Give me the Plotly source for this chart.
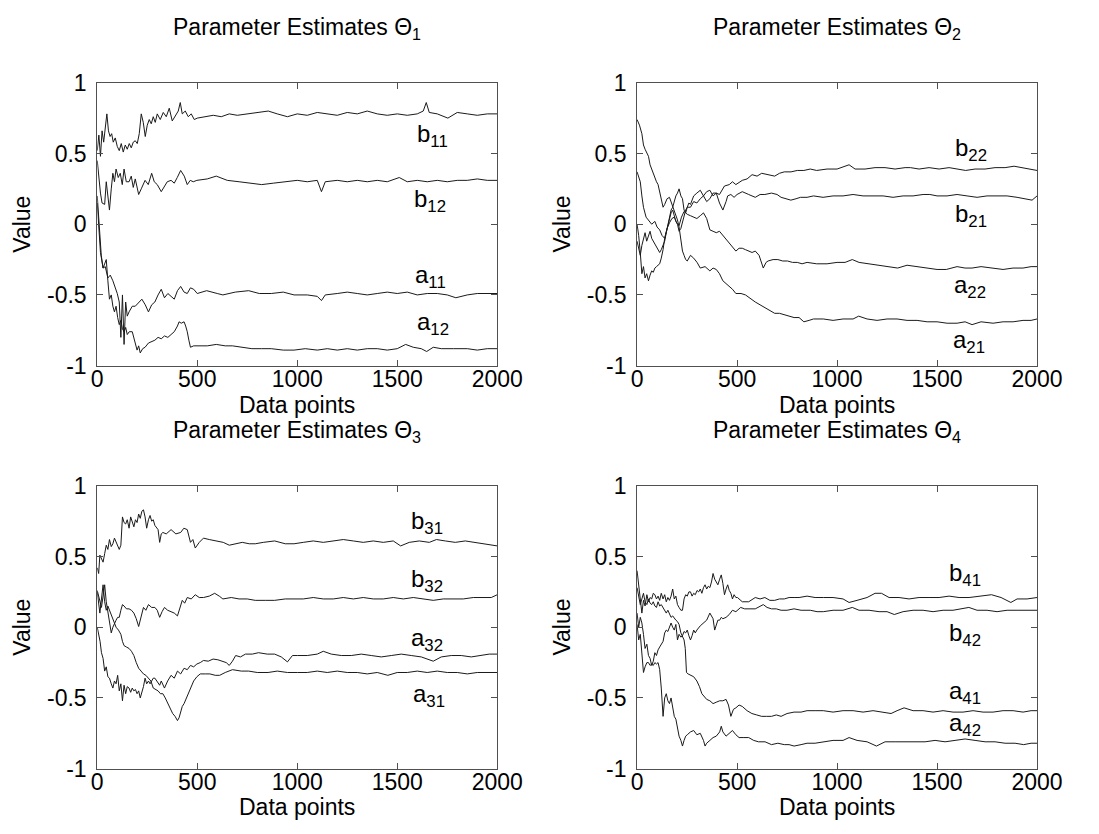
import plotly.graph_objects as go

W, H = 1099, 834

# ---------------- Panel 1 ----------------
p1_b11_x = [0, 8, 16, 24, 32, 40, 48, 56, 64, 72, 80, 90, 100, 110, 120, 130, 140, 150, 160, 170, 180, 190, 200, 210, 220, 230, 240, 250, 260, 270, 280, 290, 300, 315, 330, 345, 360, 375, 390, 405, 415, 425, 440, 455, 470, 485, 500,
            540, 580, 620, 660, 700, 750, 800, 855, 900, 951, 1000, 1050, 1100, 1150, 1200, 1250, 1300, 1350, 1400, 1450, 1500, 1550, 1600, 1630, 1645, 1660, 1700, 1753, 1800, 1850, 1900, 1950, 2000]
p1_b11_y = [0.52, 0.63, 0.48, 0.66, 0.58, 0.70, 0.78, 0.66, 0.62, 0.64, 0.58, 0.61, 0.55, 0.52, 0.57, 0.51, 0.56, 0.53, 0.57, 0.54, 0.58, 0.59, 0.57, 0.64, 0.78, 0.72, 0.62, 0.70, 0.74, 0.71, 0.76, 0.72, 0.78, 0.74, 0.79, 0.76, 0.82, 0.73, 0.77, 0.80, 0.86, 0.78, 0.80, 0.76, 0.78, 0.74, 0.75,
            0.76, 0.77, 0.76, 0.78, 0.77, 0.78, 0.79, 0.80, 0.78, 0.76, 0.78, 0.77, 0.79, 0.78, 0.77, 0.79, 0.78, 0.80, 0.78, 0.77, 0.78, 0.77, 0.78, 0.80, 0.86, 0.79, 0.78, 0.75, 0.79, 0.78, 0.77, 0.78, 0.78]

p1_b12_x = [0, 8, 16, 24, 37, 45, 53, 61, 70, 78, 86, 94, 105, 115, 125, 134, 145, 159, 170, 180, 190, 207, 220, 239, 255, 272, 285, 300, 320, 335, 350, 369, 385, 400, 417, 435, 450, 465, 480, 498,
            550, 595, 650, 709, 760, 822, 880, 951, 1000, 1050, 1100, 1121, 1140, 1200, 1250, 1300, 1350, 1400, 1450, 1510, 1550, 1600, 1650, 1700, 1750, 1800, 1850, 1900, 1950, 2000]
p1_b12_y = [0.45, 0.30, 0.22, 0.15, 0.14, 0.30, 0.18, 0.10, 0.25, 0.36, 0.30, 0.39, 0.33, 0.36, 0.28, 0.39, 0.30, 0.30, 0.34, 0.26, 0.32, 0.21, 0.25, 0.31, 0.28, 0.36, 0.30, 0.28, 0.23, 0.27, 0.30, 0.31, 0.29, 0.33, 0.38, 0.34, 0.28, 0.31, 0.30, 0.31,
            0.32, 0.34, 0.31, 0.30, 0.29, 0.28, 0.29, 0.30, 0.31, 0.30, 0.31, 0.23, 0.30, 0.31, 0.30, 0.31, 0.30, 0.31, 0.30, 0.33, 0.30, 0.31, 0.30, 0.31, 0.30, 0.31, 0.31, 0.32, 0.31, 0.31]

p1_a11_x = [0, 8, 16, 29, 40, 53, 65, 78, 90, 100, 110, 118, 126, 134, 142, 150, 159, 175, 190, 207, 223, 240, 256, 272, 288, 304, 320, 336, 353, 369, 385, 401, 417, 434, 450, 466, 482, 500,
            547, 600, 628, 690, 757, 810, 870, 930, 984, 1050, 1100, 1121, 1140, 1200, 1250, 1300, 1350, 1400, 1450, 1500, 1550, 1600, 1650, 1700, 1750, 1793, 1850, 1900, 1950, 2000]
p1_a11_y = [0.15, -0.05, -0.20, -0.31, -0.30, -0.38, -0.36, -0.40, -0.45, -0.49, -0.55, -0.80, -0.50, -0.85, -0.55, -0.65, -0.62, -0.58, -0.58, -0.55, -0.53, -0.57, -0.62, -0.57, -0.55, -0.50, -0.46, -0.52, -0.49, -0.51, -0.53, -0.47, -0.44, -0.48, -0.49, -0.45, -0.46, -0.49,
            -0.47, -0.49, -0.50, -0.48, -0.47, -0.49, -0.49, -0.48, -0.50, -0.50, -0.51, -0.54, -0.50, -0.49, -0.48, -0.49, -0.50, -0.49, -0.48, -0.49, -0.48, -0.50, -0.49, -0.49, -0.50, -0.52, -0.50, -0.49, -0.49, -0.49]

p1_a12_x = [0, 6, 13, 20, 29, 37, 45, 53, 61, 70, 78, 86, 94, 102, 110, 118, 126, 134, 142, 150, 160, 175, 190, 199, 207, 215, 227, 239, 256, 272, 288, 304, 320, 336, 353, 369, 385, 401, 409, 420, 434, 442, 450, 458, 466, 482, 498,
            550, 595, 640, 676, 720, 773, 820, 870, 930, 984, 1040, 1100, 1150, 1200, 1250, 1300, 1350, 1400, 1450, 1500, 1542, 1580, 1620, 1647, 1680, 1720, 1780, 1850, 1900, 1950, 2000]
p1_a12_y = [0.20, 0.05, -0.13, -0.22, -0.31, -0.28, -0.25, -0.40, -0.53, -0.50, -0.58, -0.62, -0.58, -0.66, -0.71, -0.68, -0.74, -0.76, -0.73, -0.78, -0.76, -0.76, -0.85, -0.89, -0.86, -0.91, -0.88, -0.87, -0.84, -0.83, -0.82, -0.80, -0.81, -0.79, -0.80, -0.78, -0.76, -0.72, -0.69, -0.70, -0.69, -0.72, -0.76, -0.82, -0.87, -0.86, -0.86,
            -0.86, -0.85, -0.86, -0.86, -0.87, -0.88, -0.88, -0.88, -0.89, -0.89, -0.88, -0.89, -0.88, -0.89, -0.88, -0.89, -0.88, -0.88, -0.89, -0.88, -0.85, -0.87, -0.88, -0.90, -0.87, -0.88, -0.88, -0.88, -0.89, -0.88, -0.88]

# ---------------- Panel 2 ----------------
p2_a21_x = [0, 12, 24, 32, 40, 48, 57, 65, 73, 81, 89, 97, 105, 113, 121, 130, 138, 150, 162, 174, 186, 194, 202, 210, 219, 227, 235, 243, 251, 267, 283, 300, 316, 340, 364, 380, 396, 412, 429, 445, 461, 477, 494,
            520, 542, 570, 591, 615, 639, 665, 688, 712, 736, 760, 785, 810, 834, 860, 882, 931, 980, 1030, 1080, 1108, 1150, 1200, 1250, 1300, 1350, 1400, 1450, 1500, 1550, 1600, 1640, 1675, 1720, 1780, 1830, 1880, 1930, 1970, 2000]
p2_a21_y = [0.74, 0.70, 0.64, 0.56, 0.53, 0.50, 0.48, 0.42, 0.39, 0.35, 0.32, 0.30, 0.28, 0.22, 0.17, 0.12, 0.14, 0.18, 0.19, 0.14, 0.10, 0.07, 0.03, -0.02, -0.10, -0.19, -0.22, -0.25, -0.26, -0.22, -0.24, -0.27, -0.31, -0.30, -0.33, -0.31, -0.32, -0.35, -0.40, -0.42, -0.44, -0.46, -0.49,
            -0.49, -0.50, -0.53, -0.55, -0.57, -0.59, -0.61, -0.63, -0.63, -0.64, -0.65, -0.66, -0.66, -0.69, -0.68, -0.67, -0.67, -0.68, -0.67, -0.67, -0.65, -0.67, -0.68, -0.67, -0.67, -0.68, -0.68, -0.69, -0.69, -0.70, -0.70, -0.69, -0.71, -0.69, -0.70, -0.69, -0.69, -0.68, -0.68, -0.67]

p2_a22_x = [0, 8, 16, 24, 32, 45, 57, 73, 89, 100, 113, 125, 138, 150, 162, 174, 186, 198, 210, 222, 235, 251, 267, 283, 299, 316, 332, 348, 364, 380, 396, 412, 429, 445, 461, 477, 494,
            510, 526, 542, 558, 575, 591, 610, 631, 645, 655, 680, 704, 728, 752, 777, 801, 825, 850, 898, 950, 1000, 1040, 1076, 1110, 1160, 1210, 1260, 1303, 1350, 1400, 1450, 1500, 1546, 1600, 1640, 1675, 1720, 1780, 1830, 1880, 1930, 1970, 2000]
p2_a22_y = [0.37, 0.34, 0.30, 0.20, 0.12, 0.05, 0.03, 0.00, 0.02, -0.02, -0.04, -0.08, -0.10, -0.03, 0.01, 0.04, 0.05, 0.01, -0.01, 0.05, 0.09, 0.07, 0.06, 0.05, 0.04, 0.06, 0.08, 0.04, -0.04, -0.05, -0.06, -0.05, -0.08, -0.10, -0.13, -0.16, -0.19,
            -0.17, -0.17, -0.18, -0.19, -0.20, -0.19, -0.22, -0.31, -0.27, -0.26, -0.25, -0.25, -0.26, -0.26, -0.27, -0.27, -0.28, -0.27, -0.28, -0.28, -0.27, -0.27, -0.25, -0.27, -0.28, -0.29, -0.30, -0.31, -0.29, -0.30, -0.31, -0.32, -0.32, -0.30, -0.31, -0.31, -0.30, -0.31, -0.32, -0.31, -0.31, -0.30, -0.30]

p2_b21_x = [0, 8, 16, 24, 32, 40, 48, 57, 65, 73, 81, 89, 97, 105, 113, 121, 130, 138, 146, 154, 162, 170, 178, 186, 194, 202, 210, 219, 227, 235, 243, 251, 267, 283, 299, 316, 332, 348, 364, 380, 396, 412, 429, 445, 453, 469, 485, 500,
            526, 558, 591, 615, 639, 672, 700, 720, 745, 769, 795, 817, 850, 882, 930, 980, 1030, 1080, 1130, 1180, 1230, 1280, 1330, 1380, 1430, 1464, 1500, 1550, 1600, 1650, 1700, 1750, 1800, 1850, 1900, 1950, 1975, 2000]
p2_b21_y = [0.00, -0.08, -0.20, -0.35, -0.30, -0.38, -0.35, -0.40, -0.36, -0.33, -0.34, -0.31, -0.30, -0.29, -0.28, -0.24, -0.18, -0.10, -0.05, 0.00, 0.04, 0.08, 0.10, 0.05, 0.02, 0.00, -0.05, -0.03, 0.02, 0.06, 0.10, 0.12, 0.12, 0.16, 0.15, 0.18, 0.20, 0.16, 0.18, 0.22, 0.22, 0.15, 0.10, 0.16, 0.20, 0.21, 0.19, 0.21,
            0.23, 0.21, 0.19, 0.21, 0.21, 0.22, 0.21, 0.19, 0.18, 0.17, 0.18, 0.19, 0.19, 0.20, 0.19, 0.20, 0.20, 0.21, 0.20, 0.20, 0.20, 0.19, 0.20, 0.20, 0.21, 0.21, 0.20, 0.20, 0.21, 0.20, 0.19, 0.20, 0.20, 0.20, 0.19, 0.18, 0.17, 0.20]

p2_b22_x = [0, 8, 16, 24, 32, 40, 48, 57, 65, 73, 81, 89, 97, 105, 113, 121, 130, 138, 146, 154, 162, 170, 178, 186, 194, 202, 210, 219, 227, 235, 243, 251, 259, 267, 283, 299, 316, 332, 348, 364, 380, 396, 412, 437, 461, 477, 494,
            526, 550, 575, 600, 623, 650, 688, 712, 736, 770, 801, 834, 866, 898, 950, 1000, 1060, 1090, 1140, 1190, 1240, 1290, 1340, 1367, 1410, 1460, 1510, 1560, 1600, 1643, 1690, 1740, 1790, 1840, 1885, 1930, 1970, 2000]
p2_b22_y = [-0.12, -0.18, -0.22, -0.15, -0.10, -0.06, -0.12, -0.08, -0.05, -0.10, -0.12, -0.14, -0.16, -0.17, -0.20, -0.18, -0.15, -0.12, -0.06, 0.00, 0.05, 0.10, 0.12, 0.16, 0.20, 0.22, 0.25, 0.20, 0.18, 0.10, 0.08, 0.12, 0.15, 0.14, 0.20, 0.22, 0.24, 0.20, 0.23, 0.24, 0.20, 0.22, 0.21, 0.27, 0.28, 0.30, 0.28,
            0.31, 0.32, 0.35, 0.34, 0.36, 0.35, 0.34, 0.36, 0.37, 0.37, 0.38, 0.38, 0.39, 0.38, 0.39, 0.39, 0.42, 0.39, 0.39, 0.40, 0.40, 0.39, 0.40, 0.40, 0.39, 0.40, 0.39, 0.40, 0.39, 0.38, 0.39, 0.39, 0.40, 0.40, 0.41, 0.40, 0.39, 0.38]

# ---------------- Panel 3 ----------------
p3_b31_x = [0, 7, 13, 21, 29, 37, 45, 53, 61, 70, 78, 86, 94, 102, 110, 118, 126, 134, 142, 150, 159, 167, 175, 183, 191, 199, 207, 215, 223, 231, 239, 247, 256, 264, 272, 280, 288, 296, 304, 312, 320, 328, 345, 369, 393, 417, 433, 450, 466, 478, 490, 510, 531,
            560, 595, 630, 660, 695, 725, 760, 790, 830, 887, 940, 984, 1030, 1080, 1130, 1180, 1230, 1280, 1330, 1380, 1430, 1480, 1517, 1560, 1610, 1660, 1696, 1740, 1790, 1840, 1890, 1940, 1980, 2000]
p3_b31_y = [0.42, 0.38, 0.51, 0.48, 0.46, 0.52, 0.58, 0.55, 0.62, 0.57, 0.59, 0.63, 0.60, 0.58, 0.55, 0.58, 0.78, 0.74, 0.73, 0.76, 0.70, 0.78, 0.75, 0.71, 0.76, 0.74, 0.80, 0.77, 0.82, 0.83, 0.78, 0.70, 0.76, 0.79, 0.75, 0.76, 0.72, 0.70, 0.69, 0.60, 0.66, 0.67, 0.66, 0.69, 0.66, 0.67, 0.70, 0.69, 0.60, 0.62, 0.56, 0.60, 0.63,
            0.62, 0.61, 0.60, 0.58, 0.59, 0.60, 0.59, 0.59, 0.60, 0.61, 0.59, 0.59, 0.60, 0.61, 0.60, 0.61, 0.62, 0.61, 0.60, 0.61, 0.60, 0.61, 0.575, 0.60, 0.61, 0.60, 0.62, 0.61, 0.60, 0.61, 0.60, 0.59, 0.58, 0.575]

p3_b32_x = [0, 8, 14, 21, 29, 37, 45, 53, 61, 70, 78, 86, 94, 102, 110, 118, 126, 134, 146, 159, 171, 183, 195, 207, 219, 231, 243, 256, 272, 288, 300, 312, 324, 336, 352, 369, 385, 401, 413, 425, 437, 450, 470, 490, 510, 531,
            560, 587, 610, 628, 670, 709, 750, 790, 840, 887, 940, 984, 1030, 1080, 1130, 1180, 1230, 1280, 1330, 1380, 1430, 1480, 1530, 1580, 1630, 1680, 1730, 1780, 1830, 1880, 1930, 1970, 2000]
p3_b32_y = [0.26, 0.22, 0.18, 0.14, 0.22, 0.30, 0.18, 0.10, 0.04, -0.04, 0.00, 0.03, 0.05, 0.07, 0.07, 0.12, 0.16, 0.15, 0.13, 0.13, 0.12, 0.10, 0.06, 0.005, 0.08, 0.14, 0.12, 0.16, 0.14, 0.14, 0.12, 0.07, 0.11, 0.14, 0.12, 0.11, 0.10, 0.08, 0.13, 0.19, 0.17, 0.21, 0.20, 0.23, 0.21, 0.21,
            0.22, 0.24, 0.22, 0.20, 0.21, 0.20, 0.20, 0.19, 0.19, 0.19, 0.20, 0.20, 0.20, 0.21, 0.20, 0.20, 0.21, 0.20, 0.21, 0.20, 0.20, 0.21, 0.20, 0.21, 0.20, 0.19, 0.20, 0.20, 0.20, 0.21, 0.21, 0.21, 0.23]

p3_a31_x = [0, 6, 13, 21, 29, 37, 45, 53, 61, 78, 94, 106, 118, 126, 134, 146, 159, 171, 183, 195, 207, 219, 231, 243, 256, 268, 280, 292, 304, 316, 328, 340, 353, 365, 377, 389, 401, 409, 417, 425, 434, 446, 458, 470, 482, 498, 515, 540, 563, 590, 612, 640, 676, 720, 757, 800, 854, 900, 951, 1000,
            1050, 1100, 1150, 1200, 1250, 1300, 1350, 1400, 1453, 1500, 1550, 1600, 1650, 1700, 1750, 1800, 1850, 1900, 1950, 2000]
p3_a31_y = [0.25, 0.18, 0.10, 0.20, 0.30, 0.18, 0.12, 0.15, 0.12, 0.05, 0.00, -0.02, -0.05, -0.10, -0.13, -0.14, -0.15, -0.17, -0.20, -0.25, -0.29, -0.31, -0.33, -0.34, -0.36, -0.38, -0.43, -0.44, -0.45, -0.47, -0.47, -0.50, -0.54, -0.57, -0.61, -0.63, -0.66, -0.64, -0.59, -0.56, -0.54, -0.50, -0.45, -0.42, -0.38, -0.35, -0.33, -0.33, -0.33, -0.34, -0.34, -0.32, -0.30, -0.31, -0.31, -0.32, -0.32, -0.31, -0.32, -0.32,
            -0.32, -0.31, -0.32, -0.31, -0.32, -0.32, -0.33, -0.32, -0.34, -0.32, -0.32, -0.31, -0.32, -0.31, -0.32, -0.32, -0.33, -0.32, -0.32, -0.32]

p3_a32_x = [0, 8, 14, 21, 29, 37, 45, 53, 61, 70, 78, 86, 94, 102, 110, 118, 126, 134, 142, 150, 159, 167, 175, 183, 191, 199, 207, 215, 223, 231, 239, 247, 256, 264, 272, 280, 288, 304, 312, 320, 336, 352, 369, 385, 401, 417, 434, 450, 466, 482, 498, 515, 531, 555, 579, 603, 628, 645, 660, 676, 692, 716, 741, 775, 806, 850, 887, 920, 951, 976, 1000,
            1050, 1100, 1130, 1170, 1220, 1270, 1320, 1370, 1420, 1470, 1520, 1570, 1620, 1680, 1720, 1770, 1820, 1870, 1920, 1960, 2000]
p3_a32_y = [0.00, -0.05, -0.10, -0.18, -0.22, -0.31, -0.28, -0.35, -0.36, -0.40, -0.43, -0.38, -0.40, -0.34, -0.45, -0.40, -0.52, -0.41, -0.47, -0.42, -0.43, -0.46, -0.43, -0.45, -0.44, -0.47, -0.45, -0.50, -0.46, -0.42, -0.36, -0.40, -0.38, -0.40, -0.38, -0.36, -0.36, -0.40, -0.41, -0.38, -0.43, -0.38, -0.34, -0.36, -0.31, -0.33, -0.29, -0.30, -0.27, -0.28, -0.26, -0.25, -0.235, -0.24, -0.225, -0.23, -0.245, -0.25, -0.27, -0.24, -0.20, -0.21, -0.19, -0.19, -0.18, -0.19, -0.19, -0.21, -0.245, -0.20, -0.20,
            -0.20, -0.19, -0.17, -0.19, -0.20, -0.20, -0.19, -0.20, -0.21, -0.20, -0.19, -0.20, -0.21, -0.24, -0.21, -0.20, -0.20, -0.21, -0.20, -0.19, -0.19]

# ---------------- Panel 4 ----------------
p4_b41_x = [0, 8, 16, 24, 32, 40, 49, 57, 65, 73, 81, 89, 97, 105, 113, 121, 130, 138, 146, 154, 162, 170, 178, 186, 194, 202, 210, 219, 227, 235, 243, 251, 259, 267, 275, 283, 291, 300, 308, 316, 324, 332, 340, 348, 356, 364, 372, 380, 388, 396, 404, 413, 421, 429, 437, 445, 453, 461, 469, 477, 485, 494, 502, 526, 558, 591, 615, 639, 664, 688, 712, 736, 760, 785, 810, 850, 890, 931,
            980, 1030, 1060, 1100, 1150, 1190, 1222, 1260, 1310, 1360, 1410, 1460, 1510, 1560, 1610, 1660, 1710, 1772, 1820, 1869, 1900, 1950, 2000]
p4_b41_y = [0.40, 0.30, 0.19, 0.10, 0.19, 0.15, 0.23, 0.18, 0.21, 0.20, 0.24, 0.23, 0.20, 0.22, 0.19, 0.24, 0.20, 0.23, 0.18, 0.21, 0.19, 0.22, 0.27, 0.20, 0.22, 0.16, 0.14, 0.12, 0.12, 0.20, 0.23, 0.22, 0.25, 0.25, 0.22, 0.24, 0.23, 0.26, 0.25, 0.27, 0.24, 0.28, 0.30, 0.27, 0.29, 0.28, 0.32, 0.38, 0.34, 0.32, 0.30, 0.34, 0.37, 0.31, 0.23, 0.27, 0.30, 0.26, 0.24, 0.20, 0.23, 0.21, 0.21, 0.18, 0.18, 0.21, 0.20, 0.21, 0.19, 0.19, 0.20, 0.20, 0.21, 0.21, 0.21, 0.22, 0.21, 0.21,
            0.21, 0.20, 0.175, 0.19, 0.21, 0.24, 0.24, 0.21, 0.21, 0.20, 0.21, 0.21, 0.21, 0.22, 0.21, 0.21, 0.22, 0.23, 0.21, 0.175, 0.20, 0.20, 0.21]

p4_b42_x = [0, 8, 16, 24, 32, 40, 49, 57, 65, 73, 81, 89, 97, 105, 113, 121, 130, 138, 146, 154, 162, 170, 178, 186, 194, 202, 210, 219, 227, 235, 243, 251, 259, 267, 275, 283, 291, 299, 316, 332, 348, 364, 380, 388, 396, 404, 413, 421, 429, 445, 461, 477, 494, 518, 538, 558, 591, 631, 650, 672, 696, 720, 750, 785, 820, 866, 900, 931,
            980, 1030, 1076, 1110, 1160, 1210, 1250, 1286, 1330, 1380, 1430, 1480, 1530, 1580, 1620, 1659, 1700, 1750, 1800, 1850, 1900, 1950, 2000]
p4_b42_y = [0.10, 0.00, 0.07, 0.03, -0.05, -0.15, -0.12, -0.20, -0.22, -0.27, -0.24, -0.18, -0.20, -0.16, -0.14, -0.12, -0.10, -0.04, -0.02, -0.03, 0.005, 0.03, 0.00, -0.02, 0.02, -0.09, -0.05, -0.07, -0.06, -0.03, -0.04, -0.02, -0.06, -0.09, -0.06, -0.02, -0.04, -0.02, 0.01, 0.03, 0.05, 0.10, 0.06, -0.02, 0.02, 0.05, 0.05, 0.07, 0.06, 0.07, 0.09, 0.12, 0.11, 0.14, 0.13, 0.13, 0.13, 0.16, 0.14, 0.13, 0.13, 0.12, 0.12, 0.13, 0.12, 0.12, 0.11, 0.11,
            0.12, 0.12, 0.14, 0.12, 0.12, 0.11, 0.11, 0.09, 0.11, 0.12, 0.12, 0.11, 0.12, 0.12, 0.13, 0.14, 0.12, 0.12, 0.11, 0.12, 0.12, 0.12, 0.12]

p4_a41_x = [0, 8, 16, 24, 32, 40, 49, 57, 65, 73, 81, 89, 97, 105, 113, 121, 130, 138, 146, 154, 162, 170, 178, 186, 194, 202, 210, 219, 227, 235, 241, 247, 255, 267, 283, 299, 312, 324, 336, 348, 364, 380, 396, 413, 429, 445, 457, 469, 482, 494, 510, 526, 550, 574, 598, 623, 648, 672, 696, 720, 750, 785, 820, 850, 890, 931,
            980, 1030, 1080, 1130, 1180, 1230, 1270, 1300, 1335, 1380, 1430, 1480, 1530, 1580, 1630, 1680, 1730, 1780, 1830, 1880, 1930, 1970, 2000]
p4_a41_y = [0.28, 0.22, 0.16, 0.20, 0.24, 0.18, 0.16, 0.20, 0.17, 0.16, 0.18, 0.15, 0.14, 0.18, 0.15, 0.16, 0.14, 0.12, 0.10, 0.12, 0.10, 0.07, 0.08, 0.06, 0.05, 0.04, 0.02, -0.04, -0.06, -0.09, -0.15, -0.32, -0.33, -0.34, -0.35, -0.38, -0.42, -0.47, -0.49, -0.51, -0.52, -0.54, -0.53, -0.52, -0.52, -0.51, -0.55, -0.63, -0.58, -0.57, -0.55, -0.56, -0.59, -0.61, -0.62, -0.63, -0.63, -0.63, -0.62, -0.63, -0.61, -0.60, -0.60, -0.59, -0.59, -0.59,
            -0.60, -0.59, -0.59, -0.60, -0.59, -0.60, -0.61, -0.59, -0.57, -0.59, -0.59, -0.60, -0.59, -0.60, -0.60, -0.59, -0.60, -0.60, -0.59, -0.59, -0.60, -0.59, -0.59]

p4_a42_x = [0, 8, 16, 24, 32, 40, 49, 57, 65, 73, 81, 89, 97, 105, 113, 121, 126, 130, 138, 146, 154, 162, 170, 178, 186, 194, 202, 210, 219, 227, 235, 243, 251, 267, 283, 299, 316, 332, 340, 348, 364, 380, 396, 413, 421, 429, 445, 461, 477, 494, 510, 534, 558, 583, 607, 640, 672, 704, 736, 760, 785, 820, 850, 890, 931,
            980, 1030, 1060, 1100, 1150, 1197, 1240, 1290, 1340, 1390, 1440, 1490, 1540, 1590, 1640, 1690, 1740, 1790, 1840, 1890, 1933, 1970, 2000]
p4_a42_y = [0.02, -0.09, -0.05, -0.20, -0.32, -0.28, -0.25, -0.25, -0.27, -0.26, -0.27, -0.25, -0.26, -0.25, -0.30, -0.43, -0.55, -0.63, -0.50, -0.47, -0.52, -0.54, -0.50, -0.58, -0.63, -0.65, -0.70, -0.77, -0.80, -0.84, -0.80, -0.77, -0.76, -0.74, -0.73, -0.76, -0.75, -0.80, -0.84, -0.82, -0.80, -0.78, -0.77, -0.74, -0.70, -0.74, -0.77, -0.75, -0.73, -0.76, -0.78, -0.78, -0.78, -0.80, -0.81, -0.81, -0.83, -0.82, -0.83, -0.83, -0.84, -0.83, -0.82, -0.82, -0.81,
            -0.80, -0.80, -0.78, -0.80, -0.81, -0.84, -0.81, -0.81, -0.81, -0.81, -0.81, -0.80, -0.81, -0.80, -0.79, -0.80, -0.81, -0.81, -0.82, -0.82, -0.83, -0.82, -0.82]

# ---------------- text ----------------
titles = ["Parameter Estimates \u0398<sub>1</sub>", "Parameter Estimates \u0398<sub>2</sub>",
          "Parameter Estimates \u0398<sub>3</sub>", "Parameter Estimates \u0398<sub>4</sub>"]
x_ticks = [0, 500, 1000, 1500, 2000]
x_tick_text = ["0", "500", "1000", "1500", "2000"]
y_ticks = [-1, -0.5, 0, 0.5, 1]
y_tick_text = ["-1", "-0.5", "0", "0.5", "1"]
x_title = "Data points"
y_title = "Value"

panel_series = [
    [(p1_b11_x, p1_b11_y), (p1_b12_x, p1_b12_y), (p1_a11_x, p1_a11_y), (p1_a12_x, p1_a12_y)],
    [(p2_b22_x, p2_b22_y), (p2_b21_x, p2_b21_y), (p2_a22_x, p2_a22_y), (p2_a21_x, p2_a21_y)],
    [(p3_b31_x, p3_b31_y), (p3_b32_x, p3_b32_y), (p3_a32_x, p3_a32_y), (p3_a31_x, p3_a31_y)],
    [(p4_b41_x, p4_b41_y), (p4_b42_x, p4_b42_y), (p4_a41_x, p4_a41_y), (p4_a42_x, p4_a42_y)],
]
# label: (letter, subscript, x, y)
panel_labels = [
    [("b", "11", 1590, 0.63), ("b", "12", 1575, 0.17), ("a", "11", 1580, -0.37), ("a", "12", 1590, -0.70)],
    [("b", "22", 1580, 0.53), ("b", "21", 1580, 0.06), ("a", "22", 1575, -0.44), ("a", "21", 1570, -0.83)],
    [("b", "31", 1560, 0.74), ("b", "32", 1560, 0.33), ("a", "32", 1560, -0.09), ("a", "31", 1570, -0.48)],
    [("b", "41", 1550, 0.37), ("b", "42", 1550, -0.05), ("a", "41", 1550, -0.46), ("a", "42", 1550, -0.69)],
]

# ---------------- layout geometry (pixels) ----------------
FONT = "Arial, 'Liberation Sans', Helvetica, sans-serif"
FS_TICK = 23
FS_TEXT = 23
FS_LABEL = 24
col_left = [94, 650]
col_w = 412
row_top = [72, 488]
row_h = 292
title_y = [16, 432]
xtitle_y = [405, 820]
ytitle_x = [17, 573]

fig = go.Figure()
annotations = []
for i in range(4):
    r, c = divmod(i, 2)
    ax = "" if i == 0 else str(i + 1)
    xa, ya = "x" + ax, "y" + ax
    for sx, sy in panel_series[i]:
        fig.add_trace(go.Scatter(x=sx, y=sy, mode="lines", xaxis=xa, yaxis=ya,
                                 line=dict(color="#1a1a1a", width=1), hoverinfo="skip",
                                 showlegend=False))
    x0 = col_left[c] / W
    x1 = (col_left[c] + col_w) / W
    y1 = 1 - row_top[r] / H
    y0 = 1 - (row_top[r] + row_h) / H
    common = dict(showline=True, linecolor="#505050", linewidth=1, mirror="ticks",
                  ticks="inside", ticklen=6, tickcolor="#505050", showgrid=False, zeroline=False,
                  tickfont=dict(family=FONT, size=FS_TICK, color="black"))
    fig.layout["xaxis" + ax] = dict(domain=[x0, x1], range=[0, 2000], tickvals=x_ticks, ticktext=x_tick_text,
                                    anchor=ya, ticklabelstandoff=-7, **common)
    fig.layout["yaxis" + ax] = dict(domain=[y0, y1], range=[-1, 1], tickvals=y_ticks, ticktext=y_tick_text,
                                    anchor=xa, ticklabelstandoff=5, **common)
    cx = (col_left[c] + col_w / 2) / W
    annotations.append(dict(text=titles[i], x=cx, y=1 - title_y[r] / H, xref="paper", yref="paper",
                            showarrow=False, xanchor="center", yanchor="middle",
                            font=dict(family=FONT, size=FS_TEXT, color="black")))
    annotations.append(dict(text=x_title, x=cx, y=1 - xtitle_y[r] / H, xref="paper", yref="paper",
                            showarrow=False, xanchor="center", yanchor="middle",
                            font=dict(family=FONT, size=FS_TEXT, color="black")))
    annotations.append(dict(text=y_title, x=ytitle_x[c] / W, y=1 - (row_top[r] + row_h / 2) / H,
                            xref="paper", yref="paper", showarrow=False, textangle=-90,
                            xanchor="center", yanchor="middle",
                            font=dict(family=FONT, size=FS_TEXT, color="black")))
    for letter, sub, lx, ly in panel_labels[i]:
        annotations.append(dict(text=f"{letter}<sub>{sub}</sub>", x=lx, y=ly, xref=xa, yref=ya,
                                showarrow=False, xanchor="left", yanchor="middle",
                                font=dict(family=FONT, size=FS_LABEL, color="black")))

fig.update_layout(width=W, height=H, autosize=False, margin=dict(l=0, r=0, t=0, b=0),
                  paper_bgcolor="white", plot_bgcolor="white", annotations=annotations)
fig.write_html("out.html")
